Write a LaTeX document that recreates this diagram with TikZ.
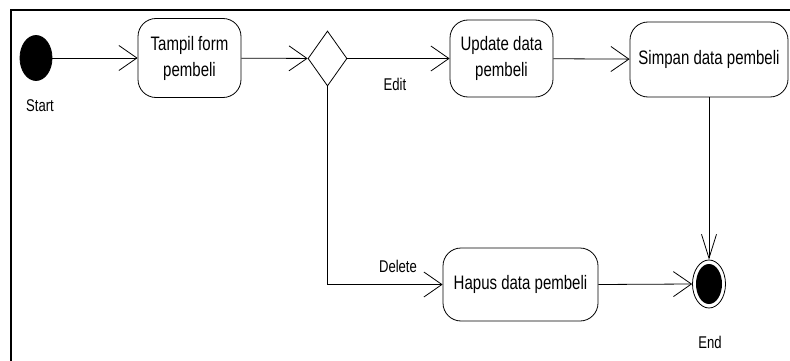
\documentclass[tikz,border=0pt]{standalone}
\usepackage{fontspec}
\setmainfont{Liberation Sans}[FakeStretch=0.77]
\usetikzlibrary{arrows.meta,shapes.geometric}
\begin{document}
\begin{tikzpicture}[x=1pt,y=-1pt,
  line width=0.8pt,
  activity/.style={draw, rectangle, rounded corners=18pt, align=center,
    inner sep=0pt, font=\fontsize{19.5}{26}\selectfont},
  decision/.style={draw, diamond, inner sep=0pt, minimum width=39pt, minimum height=55pt},
  label text/.style={font=\fontsize{17}{20}\selectfont},
  flow/.style={-{Straight Barb[length=18pt,width=25pt,line width=0.8pt]}},
  downflow/.style={-{Straight Barb[length=24pt,width=15pt,line width=0.8pt]}}]
  \useasboundingbox (0,0) rectangle (790,361);
  % page frame (only left and top edges visible)
  \draw[line width=2.4pt] (11,361) -- (11,10) -- (790,10);

  % initial and final states
  \node (start) [ellipse, fill=black, draw, minimum width=32pt, minimum height=45pt, inner sep=0pt] at (36,58) {};
  \node (endo) [ellipse, draw, minimum width=33pt, minimum height=48pt, inner sep=0pt] at (709,284) {};
  \node (endi) [ellipse, fill=black, minimum width=26pt, minimum height=40pt, inner sep=0pt] at (709,284) {};

  % activities
  \node (tampil) [activity, minimum width=103pt, minimum height=79pt] at (189.5,58) {Tampil form\\pembeli};
  \node (dia) [decision] at (327.5,58.5) {};
  \node (update) [activity, minimum width=103pt, minimum height=77pt] at (501.5,58.5) {Update data\\pembeli};
  \node (simpan) [activity, minimum width=158pt, minimum height=75pt] at (709,59.5) {Simpan data pembeli};
  \node (hapus) [activity, minimum width=155pt, minimum height=73pt] at (520.5,284.5) {Hapus data pembeli};

  % labels
  \node (lstart) [label text] at (40,106) {Start};
  \node (lend) [label text] at (710,342) {End};
  \node (ledit) [label text] at (395,84) {Edit};
  \node (ldelete) [label text] at (398,266) {Delete};

  % transitions
  \draw[flow] (start) -- (tampil);
  \draw[flow] (tampil) -- (dia);
  \draw[flow] (dia.east) -- (update);
  \draw[flow] (update) -- (simpan);
  \draw[downflow] (simpan.south) -- (endo.north);
  \draw[flow] (dia.south) |- (hapus.west);
  \draw[flow] (hapus.east) -- (endo.west);
\end{tikzpicture}
\end{document}
